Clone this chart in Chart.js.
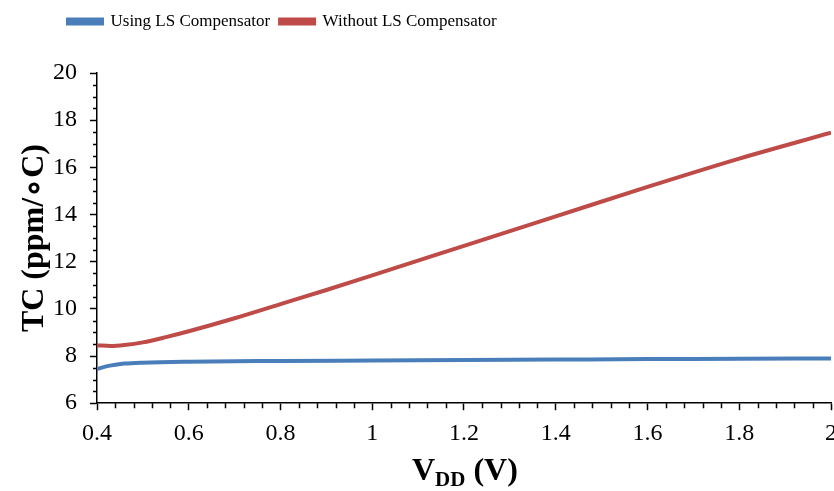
<!DOCTYPE html>
<html>
<head>
<meta charset="utf-8">
<script src="https://cdn.jsdelivr.net/npm/chart.js@4.4.1/dist/chart.umd.min.js"></script>
<style>
  html, body { margin: 0; padding: 0; background: #fff; overflow: hidden; }
  #wrap { position: relative; width: 846px; height: 491px; }
  #xtitle {
    position: absolute; left: 412px; top: 451px;
    font: bold 32px "Liberation Serif", serif; color: #000; white-space: nowrap;
  }
  #xtitle sub { font-size: 21px; vertical-align: -6px; }
</style>
</head>
<body>
<div id="wrap">
  <canvas id="tc-chart"></canvas>
  <div id="xtitle">V<sub>DD</sub> (V)</div>
</div>
<script>
// VDD sweep (V) and TC (ppm/°C)
const vddWith = [0.4, 0.42, 0.44, 0.46, 0.5, 0.6, 0.8, 1.0, 1.2, 1.4, 1.6, 1.8, 2.0];
const tcWith = [7.45, 7.56, 7.63, 7.68, 7.72, 7.76, 7.79, 7.81, 7.83, 7.85, 7.87, 7.88, 7.9];

const vddWithout = [0.4, 0.43, 0.46, 0.5, 0.55, 0.6, 0.7, 0.8, 0.9, 1.0, 1.2, 1.4, 1.6, 1.8, 2.0];
const tcWithout = [8.45, 8.43, 8.47, 8.58, 8.8, 9.05, 9.6, 10.2, 10.8, 11.42, 12.67, 13.92, 15.17, 16.37, 17.47];

const seriesNames = ['Using LS Compensator', 'Without LS Compensator'];
const xRange = [0.4, 2];
const yRange = [6, 20];

const toPoints = (xs, ys) => xs.map((x, i) => ({ x, y: ys[i] }));

// legend sits left of centre and a bit above the plot, like the original
const legendPlace = {
  id: 'legendPlace',
  beforeInit(chart) {
    const fit = chart.legend.fit;
    chart.legend.fit = function () {
      fit.call(this);
      this.height = 73;
    };
  },
  afterUpdate(chart) {
    chart.legend.left = 58;
    chart.legend.top = 3;
  }
};

// minor tick marks between the labelled ones
const minorTicks = {
  id: 'minorTicks',
  afterDraw(chart) {
    const { ctx, chartArea, scales } = chart;
    ctx.save();
    ctx.strokeStyle = '#000';
    ctx.lineWidth = 1.5;
    ctx.beginPath();
    for (let v = yRange[0]; v <= yRange[1] + 1e-9; v += 0.5) {
      if (Math.abs(v / 2 - Math.round(v / 2)) < 1e-6) continue;
      const y = Math.round(scales.y.getPixelForValue(v)) + 0.5;
      ctx.moveTo(chartArea.left - 4, y);
      ctx.lineTo(chartArea.left, y);
    }
    for (let i = 0; i <= 40; i++) {
      if (i % 5 === 0) continue;
      const v = xRange[0] + i * 0.04;
      const x = Math.round(scales.x.getPixelForValue(v)) + 0.5;
      ctx.moveTo(x, chartArea.bottom);
      ctx.lineTo(x, chartArea.bottom + 5);
    }
    ctx.stroke();
    ctx.restore();
  }
};

const ctx = document.getElementById('tc-chart').getContext('2d');
new Chart(ctx, {
  type: 'line',
  data: {
    datasets: [
      {
        label: seriesNames[0],
        data: toPoints(vddWith, tcWith),
        borderColor: '#4a7ebb',
        backgroundColor: '#4a7ebb',
        borderWidth: 4,
        pointRadius: 0,
        cubicInterpolationMode: 'monotone',
        fill: false,
      },
      {
        label: seriesNames[1],
        data: toPoints(vddWithout, tcWithout),
        borderColor: '#be4b48',
        backgroundColor: '#be4b48',
        borderWidth: 4,
        pointRadius: 0,
        cubicInterpolationMode: 'monotone',
        fill: false,
      }
    ]
  },
  options: {
    responsive: true,
    maintainAspectRatio: false,
    animation: false,
    layout: { padding: { top: 0, bottom: 34, left: 0, right: 0 } },
    plugins: {
      tooltip: { enabled: false },
      legend: {
        position: 'top',
        align: 'start',
        labels: {
          boxWidth: 34,
          boxHeight: 4,
          padding: 10,
          color: '#000',
          font: { family: '"Liberation Serif", serif', size: 17 }
        }
      }
    },
    scales: {
      x: {
        type: 'linear',
        min: xRange[0],
        max: xRange[1],
        ticks: {
          stepSize: 0.2,
          color: '#000',
          padding: 9,
          maxRotation: 0,
          font: { family: '"Liberation Serif", serif', size: 24 },
          callback: v => String(+v.toFixed(1))
        },
        grid: { drawOnChartArea: false, tickLength: 7, color: '#000', tickWidth: 1.5 },
        border: { color: '#000', width: 1.5 }
      },
      y: {
        min: yRange[0],
        max: yRange[1],
        afterFit: scale => { scale.width = 97; },
        ticks: {
          stepSize: 2,
          color: '#000',
          padding: 13,
          font: { family: '"Liberation Serif", serif', size: 24 }
        },
        grid: { drawOnChartArea: false, tickLength: 7, color: '#000', tickWidth: 1.5 },
        border: { color: '#000', width: 1.5 },
        title: {
          display: true,
          text: 'TC (ppm/∘C)',
          color: '#000',
          padding: { top: 16, bottom: 0 },
          font: { family: '"Liberation Serif", serif', size: 32, weight: 'bold' }
        }
      }
    }
  },
  plugins: [legendPlace, minorTicks]
});
</script>
</body>
</html>
